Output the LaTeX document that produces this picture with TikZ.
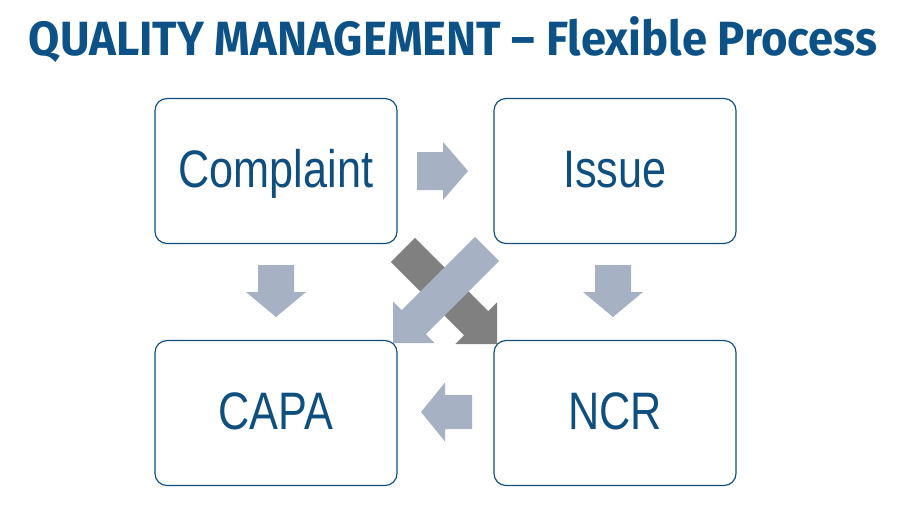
\documentclass[tikz,border=0pt]{standalone}
\usepackage{fontspec}
\setmainfont{Liberation Sans}
\newfontfamily\boxfont[FakeStretch=0.82]{Liberation Sans}
\newfontfamily\titlefont[FakeStretch=0.945]{Fira Sans}
\usetikzlibrary{positioning,calc}
\definecolor{qmblue}{RGB}{14,79,128}
\definecolor{qmtitle}{RGB}{12,82,134}
\definecolor{lightarrow}{RGB}{167,177,196}
\definecolor{darkarrow}{RGB}{128,128,128}

\tikzset{
  qmbox/.style={draw=qmblue, line width=1pt, rounded corners=0.36cm,
    minimum width=7.26cm, minimum height=4.35cm, inner sep=0pt,
    font=\boxfont\fontsize{45}{45}\selectfont, text=qmblue,
    text height=0.99cm, text depth=0pt},
  pics/blockarrow/.style n args={5}{code={
    \fill[#5] (0,0) -- (-#3,#4) -- (-#3,#2) -- (-#1,#2)
      -- (-#1,-#2) -- (-#3,-#2) -- (-#3,-#4) -- cycle;
  }},
}

\begin{document}
\begin{tikzpicture}[x=0.03cm,y=-0.03cm]
  \useasboundingbox (0,0) rectangle (906,520);

  \node[font=\titlefont\bfseries\fontsize{41}{41}\selectfont, text=qmtitle,
    anchor=base] (title) at (453,55) {QUALITY MANAGEMENT – Flexible Process};

  \node[qmbox] (complaint) at (276,171) {Complaint};
  \node[qmbox] (issue) at (615,171) {Issue};
  \node[qmbox] (capa) at (276,413) {CAPA};
  \node[qmbox] (ncr) at (615,413) {NCR};

  \pic at (468,171) {blockarrow={51}{19}{25}{29}{lightarrow}};
  \pic[rotate=-90] at (276,317) {blockarrow={52}{18}{25}{30}{lightarrow}};
  \pic[rotate=-90] at (613,317) {blockarrow={52}{18}{25}{30}{lightarrow}};
  \pic[rotate=180] at (421,412) {blockarrow={51}{17}{24}{29.5}{lightarrow}};
  \pic[rotate=-45] at (497,344) {blockarrow={133}{17}{29.5}{29.5}{darkarrow}};
  \pic[rotate=-135] at (393,343) {blockarrow={133}{17}{29.5}{29.5}{lightarrow}};
\end{tikzpicture}
\end{document}
